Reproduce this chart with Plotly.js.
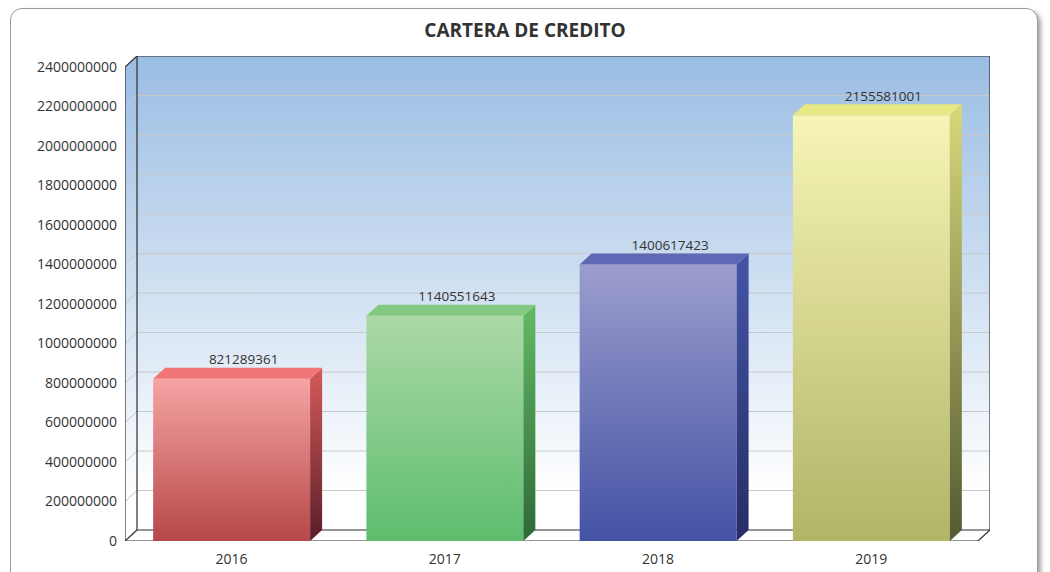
<!DOCTYPE html>
<html>
<head>
<meta charset="utf-8">
<script src="https://cdn.plot.ly/plotly-3.0.1.min.js"></script>
<style>
html, body { margin: 0; padding: 0; background: #fff; overflow: hidden; }
#frame {
    position: absolute; left: 10px; top: 8px; width: 1026px; height: 600px;
    border: 1px solid #9a9a9a; border-radius: 12px;
    box-shadow: 3px 3px 4px rgba(0, 0, 0, 0.35); background: #fff;
}
#chart { position: absolute; left: 0; top: 0; width: 1050px; height: 572px; }
</style>
</head>
<body>
<div id="frame"></div>
<div id="chart"></div>
<script>
// data
const years = ['2016', '2017', '2018', '2019'];
const cartera = [821289361, 1140551643, 1400617423, 2155581001];
const tickVals = [0, 200000000, 400000000, 600000000, 800000000, 1000000000, 1200000000,
    1400000000, 1600000000, 1800000000, 2000000000, 2200000000, 2400000000];
const tickText = ['0', '200000000', '400000000', '600000000', '800000000', '1000000000', '1200000000',
    '1400000000', '1600000000', '1800000000', '2000000000', '2200000000', '2400000000'];

// face colours per bar
const frontTop = ['#f6a4a4', '#acd9a6', '#9c9dcd', '#f6f5b6'];
const frontBottom = ['#b64848', '#5dbd6d', '#4453a5', '#b2b467'];
const sideTop = ['#d65a5a', '#62ba64', '#4455a8', '#d8d87a'];
const sideBottom = ['#5a1e28', '#2e6a37', '#262c66', '#545a32'];
const topFace = ['#f07676', '#84c981', '#5d69b5', '#e7e783'];

// 3D look: depth offset in axis units
const yMax = tickVals[tickVals.length - 1];
const nCat = years.length;
const dX = 0.0563;
const dY = 55.7e6;
const half = 0.368;

const wallGrad = { type: 'vertical', colorscale: [[0, '#ffffff'], [0.08, '#ffffff'], [1, '#9abde3']] };
const dark = '#2f2f2f';

let traces = [];

// back wall + left wall
traces.push({
    x: [dX, nCat + dX, nCat + dX, dX, dX],
    y: [dY, dY, yMax + dY, yMax + dY, dY],
    mode: 'lines', fill: 'toself', fillgradient: wallGrad,
    line: { width: 0 }, hoverinfo: 'skip'
});
traces.push({
    x: [0, dX, dX, 0, 0],
    y: [0, dY, yMax + dY, yMax, 0],
    mode: 'lines', fill: 'toself', fillgradient: wallGrad,
    line: { width: 0 }, hoverinfo: 'skip'
});
// floor
traces.push({
    x: [0, nCat, nCat + dX, dX, 0],
    y: [0, 0, dY, dY, 0],
    mode: 'lines', fill: 'toself', fillcolor: '#ffffff',
    line: { width: 0 }, hoverinfo: 'skip'
});

// gridlines on the back wall and left wall
let gx = [], gy = [];
tickVals.slice(1, -1).forEach(v => {
    gx.push(0, dX, nCat + dX, null);
    gy.push(v, v + dY, v + dY, null);
});
traces.push({ x: gx, y: gy, mode: 'lines', line: { color: '#c8c8c8', width: 1 }, hoverinfo: 'skip' });

// frame lines
traces.push({
    x: [dX, dX, nCat + dX, nCat + dX, null, dX, nCat + dX, null, 0, nCat, nCat + dX, null, 0, 0, dX, null, 0, dX],
    y: [dY, yMax + dY, yMax + dY, dY, null, dY, dY, null, 0, 0, dY, null, 0, yMax, yMax + dY, null, 0, dY],
    mode: 'lines', line: { color: dark, width: 1.2 }, hoverinfo: 'skip'
});

// bars: front, side and top faces
cartera.forEach((v, i) => {
    let c = i + 0.5;
    let l = c - half, r = c + half;
    traces.push({
        x: [l, r, r, l, l], y: [0, 0, v, v, 0],
        mode: 'lines', fill: 'toself',
        fillgradient: { type: 'vertical', colorscale: [[0, frontBottom[i]], [1, frontTop[i]]] },
        line: { width: 0 }, hoverinfo: 'skip'
    });
    traces.push({
        x: [r, r + dX, r + dX, r, r], y: [0, dY, v + dY, v, 0],
        mode: 'lines', fill: 'toself',
        fillgradient: { type: 'vertical', colorscale: [[0, sideBottom[i]], [1, sideTop[i]]] },
        line: { width: 0 }, hoverinfo: 'skip'
    });
    traces.push({
        x: [l, r, r + dX, l + dX, l], y: [v, v, v + dY, v + dY, v],
        mode: 'lines', fill: 'toself', fillcolor: topFace[i],
        line: { width: 0 }, hoverinfo: 'skip'
    });
});

// value labels
traces.push({
    x: cartera.map((v, i) => i + 0.5 + dX),
    y: cartera.map(v => v + dY),
    mode: 'text',
    text: cartera.map(v => String(v)),
    textposition: 'top center',
    textfont: { family: 'Open Sans', size: 13.5, color: '#333' },
    hoverinfo: 'skip'
});

let layout = {
    width: 1050, height: 572,
    margin: { l: 125, r: 60, t: 56, b: 31 },
    paper_bgcolor: 'rgba(0,0,0,0)',
    plot_bgcolor: 'rgba(0,0,0,0)',
    showlegend: false,
    font: { family: 'Open Sans', color: '#333' },
    title: {
        text: '<b>CARTERA DE CREDITO</b>',
        font: { family: 'Open Sans', size: 19, color: '#333' },
        x: 0.5, xref: 'container', y: 1 - 30 / 572, yref: 'container', yanchor: 'middle'
    },
    xaxis: {
        range: [0, nCat + dX],
        tickvals: years.map((y, i) => i + 0.5),
        ticktext: years,
        showgrid: false, zeroline: false, showline: false, ticks: '',
        ticklabelstandoff: 8,
        tickfont: { family: 'Open Sans', size: 14, color: '#333' },
        fixedrange: true
    },
    yaxis: {
        range: [0, yMax + dY],
        tickvals: tickVals,
        ticktext: tickText,
        showgrid: false, zeroline: false, showline: false, ticks: '',
        ticklabelstandoff: 7,
        tickfont: { family: 'Open Sans', size: 14, color: '#333' },
        fixedrange: true
    }
};

Plotly.newPlot('chart', traces, layout, { displayModeBar: false, staticPlot: true });
</script>
</body>
</html>
